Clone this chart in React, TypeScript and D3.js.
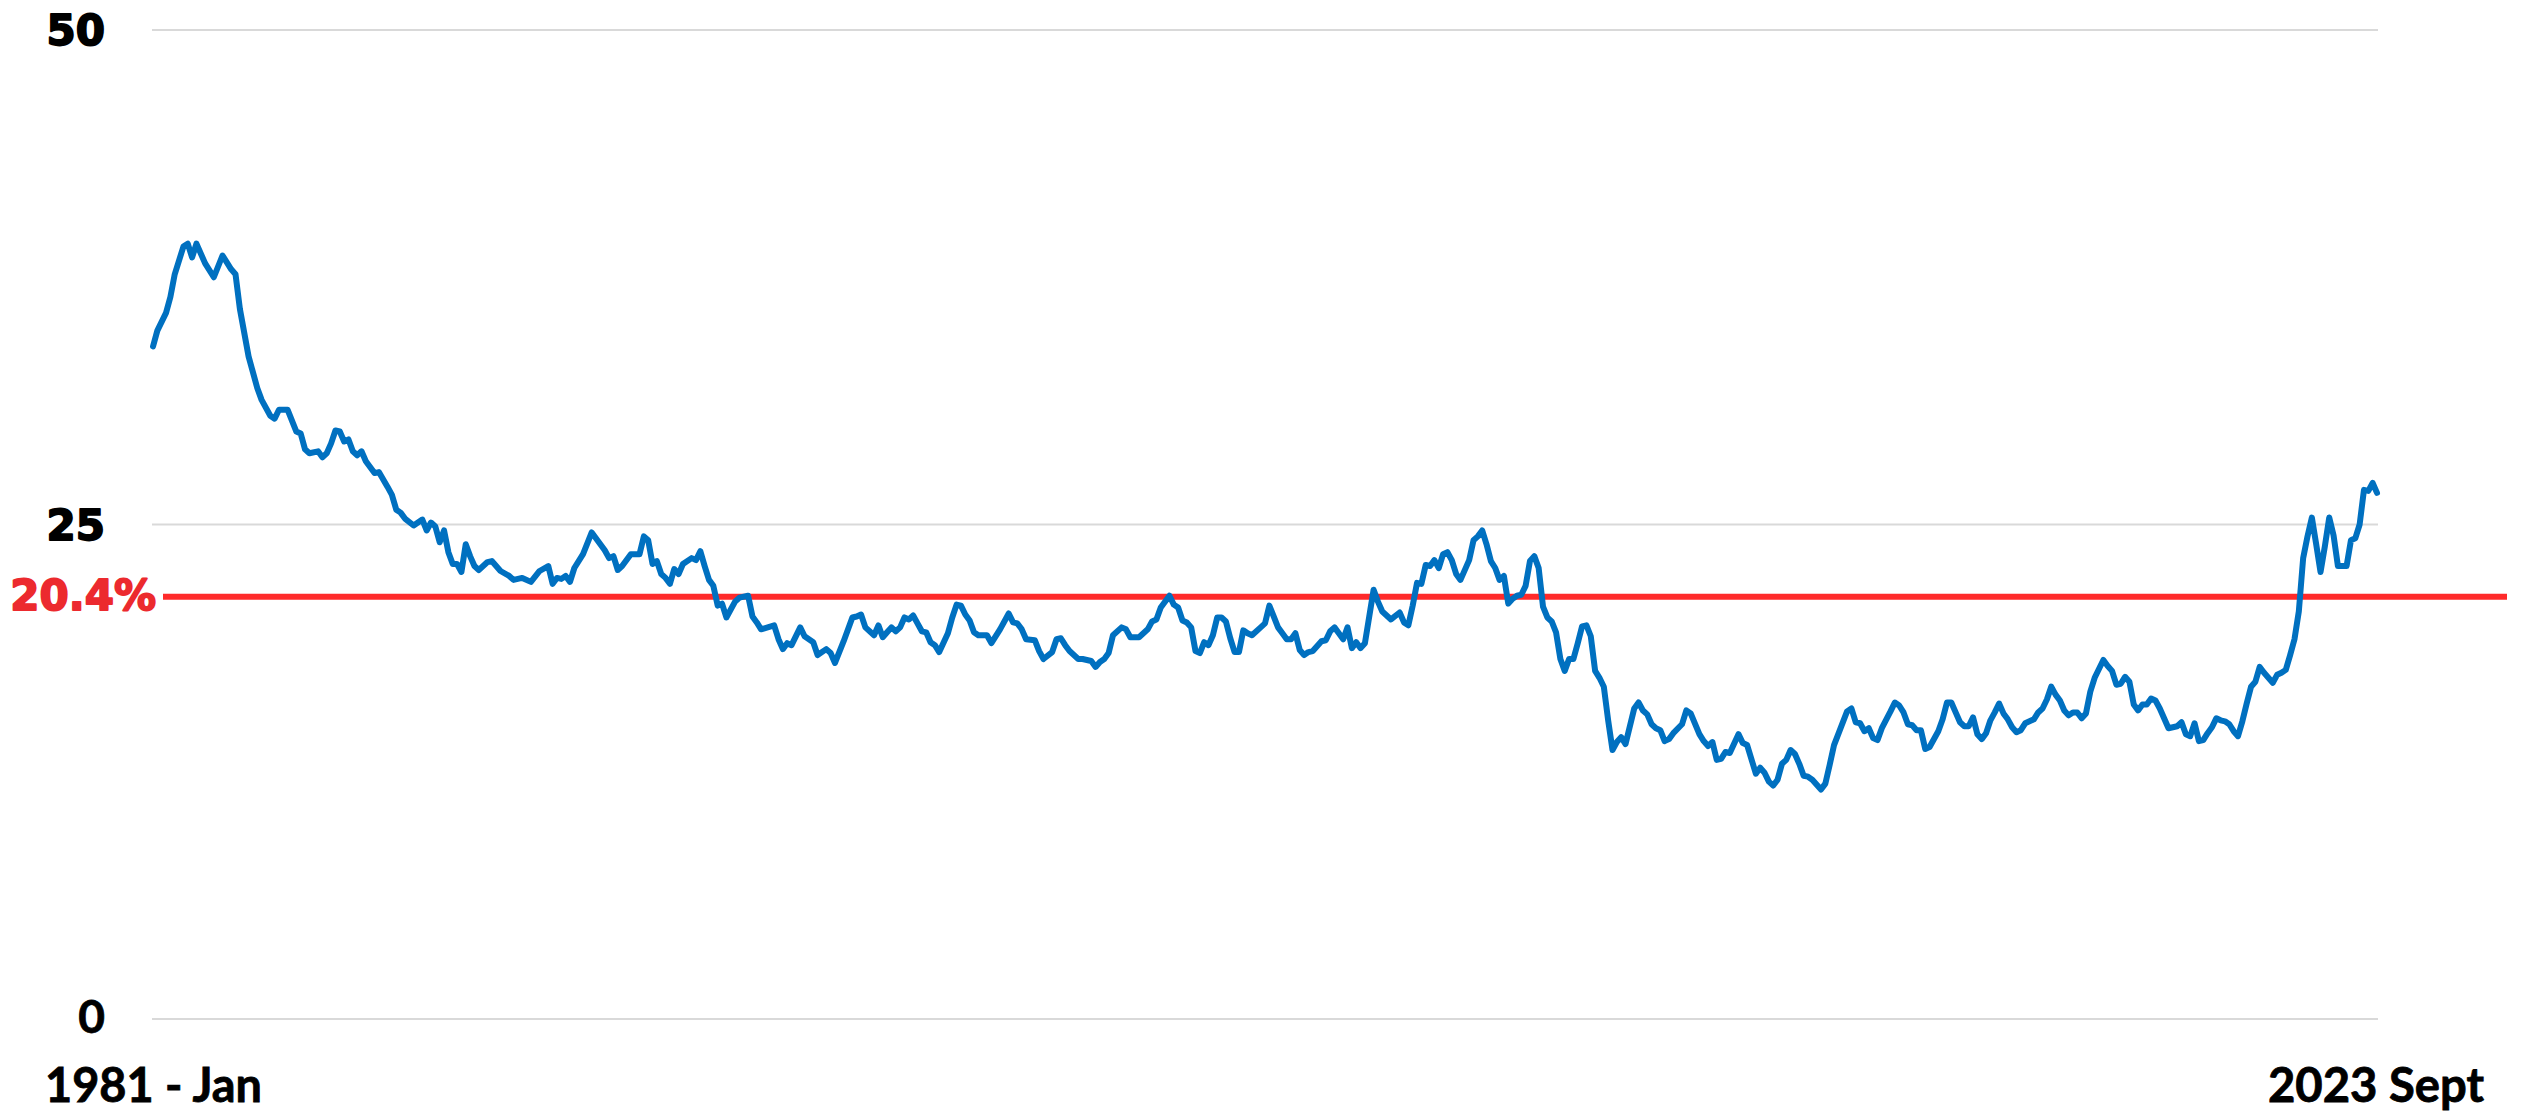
import React from 'react';
import * as d3 from 'd3';

// Months since January 1981 (0 = 1981 Jan, 512 = 2023 Sept)
const monthIndex = [
  0, 1, 3, 4, 5, 7, 8, 9, 10, 12, 14, 16, 18, 19, 20, 22, 24, 25, 27, 28, 29, 31, 33, 34, 35, 36, 38, 39, 40, 41,
  42, 43, 44, 45, 46, 47, 48, 49, 51, 52, 54, 55, 56, 57, 58, 60, 62, 63, 64, 65, 66, 67, 68, 69, 70, 71, 72, 73,
  74, 75, 77, 78, 80, 82, 83, 85, 87, 89, 91, 92, 93, 94, 95, 96, 97, 99, 101, 104, 105, 106, 107, 108, 110, 112,
  113, 114, 115, 116, 117, 118, 119, 120, 121, 122, 124, 125, 126, 127, 128, 129, 130, 131, 132, 134, 135, 137,
  138, 139, 140, 143, 144, 145, 146, 147, 149, 150, 152, 153, 155, 156, 157, 159, 161, 162, 163, 164, 166, 167,
  168, 169, 170, 171, 172, 173, 174, 175, 176, 177, 178, 179, 180, 181, 183, 184, 185, 186, 187, 188, 189, 190,
  192, 193, 195, 197, 198, 199, 200, 201, 203, 204, 205, 207, 208, 209, 210, 211, 213, 214, 216, 217, 218, 219,
  220, 221, 223, 224, 225, 227, 229, 230, 231, 232, 234, 235, 236, 237, 238, 239, 240, 241, 242, 243, 244, 245,
  246, 247, 248, 249, 250, 251, 252, 253, 255, 256, 257, 258, 259, 260, 261, 262, 263, 264, 265, 266, 267, 269,
  270, 271, 272, 273, 274, 275, 276, 277, 278, 279, 280, 281, 282, 283, 285, 287, 288, 289, 290, 291, 292, 293,
  294, 295, 296, 297, 298, 299, 300, 301, 303, 304, 305, 306, 307, 308, 309, 310, 311, 312, 313, 314, 315, 316,
  317, 318, 319, 320, 321, 322, 323, 324, 325, 326, 327, 328, 329, 330, 331, 332, 333, 334, 335, 336, 337, 338,
  339, 340, 341, 342, 343, 344, 345, 346, 347, 348, 349, 350, 352, 353, 354, 356, 357, 358, 359, 360, 361, 362,
  363, 365, 366, 367, 369, 370, 371, 372, 373, 374, 375, 376, 377, 378, 379, 380, 381, 382, 384, 385, 386, 387,
  390, 391, 392, 393, 394, 395, 396, 397, 398, 400, 401, 402, 403, 404, 405, 406, 407, 408, 409, 411, 412, 413,
  414, 415, 416, 417, 418, 419, 420, 421, 422, 423, 424, 425, 426, 427, 428, 429, 430, 431, 433, 434, 435, 436,
  437, 438, 439, 440, 441, 442, 443, 444, 445, 446, 447, 449, 450, 451, 452, 453, 454, 455, 456, 457, 458, 459,
  460, 461, 462, 464, 465, 466, 467, 468, 469, 470, 471, 472, 473, 474, 475, 476, 477, 478, 479, 480, 481, 482,
  483, 484, 485, 486, 487, 488, 489, 490, 491, 492, 493, 494, 495, 496, 497, 498, 499, 500, 501, 502, 503, 504,
  505, 506, 507, 508, 509, 510, 511, 512,
];

const rate = [
  34.0, 34.8, 35.7, 36.5, 37.65, 39.05, 39.2, 38.5, 39.2, 38.2, 37.5, 38.6, 37.9, 37.65, 35.9, 33.5, 31.9, 31.3,
  30.5, 30.35, 30.8, 30.8, 29.7, 29.6, 28.8, 28.6, 28.7, 28.4, 28.6, 29.1, 29.75, 29.7, 29.2, 29.3, 28.7, 28.5,
  28.7, 28.2, 27.6, 27.65, 26.9, 26.5, 25.75, 25.6, 25.3, 24.95, 25.25, 24.7, 25.1, 24.9, 24.1, 24.7, 23.6, 23.0,
  23.0, 22.6, 24.0, 23.4, 22.9, 22.7, 23.1, 23.15, 22.65, 22.4, 22.2, 22.3, 22.1, 22.65, 22.9, 22.0, 22.3, 22.25,
  22.4, 22.1, 22.8, 23.5, 24.6, 23.7, 23.3, 23.4, 22.7, 22.9, 23.5, 23.5, 24.4, 24.2, 23.0, 23.15, 22.5, 22.3,
  22.0, 22.75, 22.5, 23.0, 23.3, 23.2, 23.65, 22.9, 22.2, 21.9, 20.9, 21.0, 20.3, 21.1, 21.3, 21.4, 20.35, 20.05,
  19.7, 19.9, 19.2, 18.7, 19.0, 18.9, 19.8, 19.35, 19.05, 18.4, 18.7, 18.5, 18.0, 19.1, 20.3, 20.35, 20.45, 19.8,
  19.4, 19.9, 19.3, 19.55, 19.8, 19.6, 19.8, 20.3, 20.2, 20.4, 20.0, 19.6, 19.55, 19.05, 18.9, 18.55, 19.5, 20.3,
  20.95, 20.9, 20.45, 20.15, 19.55, 19.4, 19.4, 19.0, 19.7, 20.5, 20.05, 20.0, 19.7, 19.2, 19.15, 18.6, 18.2,
  18.55, 19.2, 19.25, 18.9, 18.6, 18.2, 18.2, 18.1, 17.8, 18.05, 18.2, 18.5, 19.4, 19.8, 19.7, 19.3, 19.3, 19.7,
  20.1, 20.2, 20.8, 21.4, 20.95, 20.8, 20.15, 20.05, 19.8, 18.6, 18.5, 19.05, 18.9, 19.4, 20.3, 20.3, 20.1, 19.25,
  18.55, 18.55, 19.65, 19.5, 19.4, 19.8, 20.0, 20.9, 20.35, 19.8, 19.5, 19.2, 19.2, 19.5, 18.65, 18.4, 18.55,
  18.6, 19.1, 19.15, 19.6, 19.8, 19.5, 19.2, 19.8, 18.75, 19.05, 18.75, 19.0, 20.35, 21.7, 21.1, 20.6, 20.2,
  20.55, 20.05, 19.9, 20.9, 22.05, 22.0, 22.95, 22.9, 23.2, 22.8, 23.5, 23.6, 23.2, 22.5, 22.2, 23.2, 24.2, 24.4,
  24.7, 24.0, 23.15, 22.8, 22.2, 22.4, 21.0, 21.25, 21.4, 21.45, 21.9, 23.15, 23.4, 22.8, 20.85, 20.3, 20.1,
  19.55, 18.2, 17.6, 18.2, 18.2, 19.0, 19.85, 19.9, 19.35, 17.6, 17.25, 16.8, 15.1, 13.6, 14.0, 14.25, 13.9, 14.8,
  15.7, 16.0, 15.6, 15.4, 14.9, 14.7, 14.6, 14.05, 14.15, 14.45, 14.9, 15.6, 15.45, 14.4, 14.05, 13.8, 14.0, 13.1,
  13.15, 13.5, 13.45, 14.4, 13.95, 13.85, 12.4, 12.7, 12.45, 12.0, 11.8, 12.1, 12.9, 13.1, 13.6, 13.4, 12.9,
  12.3, 12.25, 12.1, 11.6, 11.9, 12.85, 13.85, 15.55, 15.7, 15.0, 14.95, 14.55, 14.7, 14.2, 14.1, 14.7, 15.55,
  16.0, 15.85, 15.5, 14.9, 14.85, 14.6, 14.6, 13.65, 13.75, 14.55, 15.15, 16.0, 16.0, 15.5, 15.0, 14.8, 14.8,
  15.25, 14.4, 14.15, 14.45, 15.1, 15.5, 15.95, 15.45, 15.15, 14.75, 14.5, 14.6, 14.95, 15.15, 15.5, 15.7, 16.15,
  16.8, 16.4, 16.1, 15.6, 15.35, 15.5, 15.5, 15.2, 15.45, 16.55, 17.25, 18.15, 17.85, 17.6, 16.9, 16.95, 17.3,
  17.05, 15.9, 15.6, 15.9, 15.9, 16.2, 16.1, 15.7, 14.7, 14.75, 14.8, 15.0, 14.4, 14.3, 14.95, 14.05, 14.1,
  14.45, 14.75, 15.2, 15.1, 15.05, 14.9, 14.55, 14.3, 15.05, 15.95, 16.8, 17.05, 17.8, 17.5, 17.25, 17.0, 17.4,
  17.5, 17.65, 18.4, 19.2, 20.6, 23.3, 24.4, 25.35, 24.0, 22.6, 23.9, 25.35, 24.45, 22.9, 22.9, 22.9, 24.2, 24.3,
  25.0, 26.75, 26.7, 27.1, 26.6,
];

const yTicks = [50, 25, 0];
const yDomain = [0, 50];
const lastMonth = 512;
const xEndLabels = ['1981 - Jan', '2023 Sept'];
const averageLabel = '20.4%';
// where the red reference line sits on the value scale in the picture
const averageLinePosition = 21.35;

export default function App() {
  const W = 2526;
  const H = 1113;
  const x = d3.scaleLinear().domain([0, lastMonth]).range([153, 2377]);
  const y = d3.scaleLinear().domain(yDomain).range([1019, 30]);

  const points: [number, number][] = monthIndex.map((m, i) => [m, rate[i]]);
  const linePath = d3
    .line<[number, number]>()
    .x((d) => x(d[0]))
    .y((d) => y(d[1]))(points) as string;

  const wideFont = "'DejaVu Sans', Verdana, sans-serif";
  const narrowFont = "Lato, 'Open Sans', sans-serif";

  return (
    <svg
      width={W}
      height={H}
      viewBox={`0 0 ${W} ${H}`}
      style={{ position: 'absolute', left: 0, top: 0, background: '#fff' }}
    >
      <rect x={0} y={0} width={W} height={H} fill="#ffffff" />
      {yTicks.map((t) => (
        <line
          key={'g' + t}
          x1={x(0) - 1}
          x2={x(lastMonth) + 1}
          y1={y(t)}
          y2={y(t)}
          stroke="#D9D9D9"
          strokeWidth={2}
        />
      ))}
      {yTicks.map((t) =>
        t === 0 ? (
          <text
            key={'t' + t}
            x={105}
            y={y(t) + 14}
            textAnchor="end"
            fontFamily={narrowFont}
            fontWeight={700}
            fontSize={46}
            fill="#000"
            stroke="#000"
            strokeWidth={0.8}
          >
            {String(t)}
          </text>
        ) : (
          <text
            key={'t' + t}
            x={105}
            y={y(t) + 15}
            textAnchor="end"
            fontFamily={wideFont}
            fontWeight={700}
            fontSize={42}
            fill="#000"
            stroke="#000"
            strokeWidth={1.8}
            strokeLinejoin="round"
          >
            {String(t)}
          </text>
        )
      )}
      <line
        x1={163}
        x2={2507}
        y1={y(averageLinePosition)}
        y2={y(averageLinePosition)}
        stroke="#FF2A2A"
        strokeWidth={6}
      />
      <text
        x={156}
        y={y(averageLinePosition) + 13}
        textAnchor="end"
        fontFamily={wideFont}
        fontWeight={700}
        fontSize={42}
        fill="#EC2A2E"
        stroke="#EC2A2E"
        strokeWidth={1.8}
        strokeLinejoin="round"
      >
        {averageLabel}
      </text>
      <path
        d={linePath}
        fill="none"
        stroke="#0070C0"
        strokeWidth={6}
        strokeLinejoin="round"
        strokeLinecap="round"
      />
      <text
        x={45}
        y={1102}
        fontFamily={narrowFont}
        fontWeight={700}
        fontSize={47}
        fill="#000"
        stroke="#000"
        strokeWidth={0.8}
        textLength={217}
        lengthAdjust="spacingAndGlyphs"
      >
        {xEndLabels[0]}
      </text>
      <text
        x={2268}
        y={1102}
        fontFamily={narrowFont}
        fontWeight={700}
        fontSize={47}
        fill="#000"
        stroke="#000"
        strokeWidth={0.8}
        textLength={216}
        lengthAdjust="spacingAndGlyphs"
      >
        {xEndLabels[1]}
      </text>
    </svg>
  );
}
